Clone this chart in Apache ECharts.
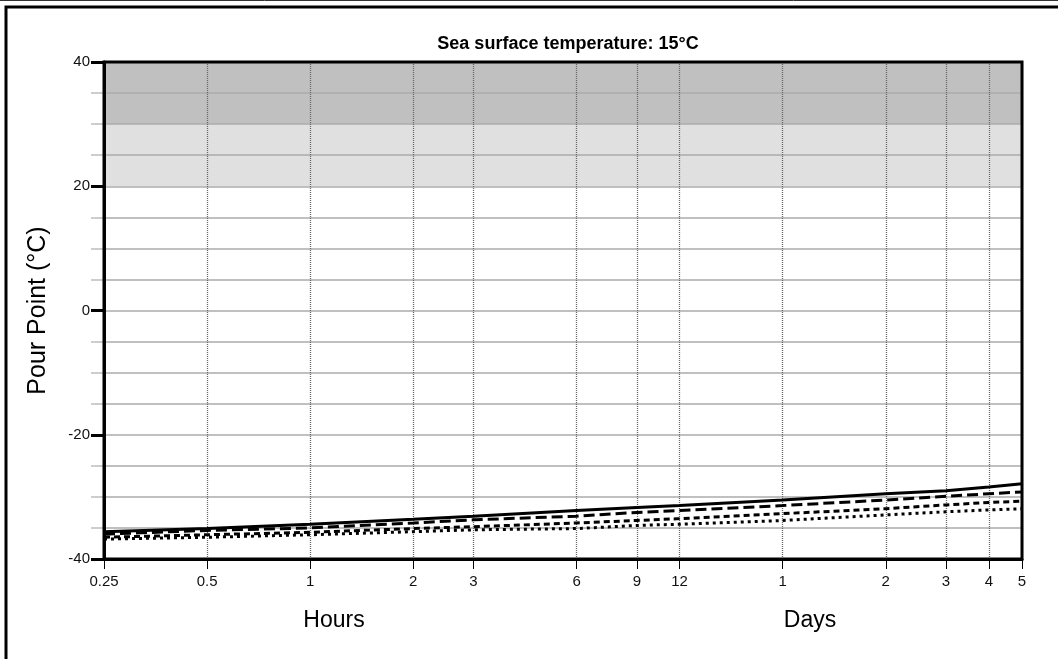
<!DOCTYPE html>
<html>
<head>
<meta charset="utf-8">
<script src="https://cdn.jsdelivr.net/npm/echarts@6/dist/echarts.min.js"></script>
<style>
html,body{margin:0;padding:0;background:#fff;}
#c{width:1058px;height:659px;}
</style>
</head>
<body>
<div id="c"></div>
<script>
// ---- data ----
var hours = [0.25, 0.5, 1, 2, 3, 6, 9, 12, 24, 48, 72, 96, 120];
var seriesSolid  = [-35.6, -35.1, -34.4, -33.6, -33.1, -32.2, -31.7, -31.4, -30.5, -29.5, -29.0, -28.4, -27.9];
var seriesLong   = [-36.0, -35.4, -35.0, -34.2, -33.7, -33.1, -32.5, -32.2, -31.4, -30.5, -29.9, -29.5, -29.2];
var seriesShort  = [-36.5, -36.1, -35.7, -35.1, -34.8, -34.2, -33.8, -33.5, -32.7, -31.9, -31.3, -30.9, -30.7];
var seriesDotted = [-36.8, -36.5, -36.1, -35.6, -35.3, -35.1, -34.6, -34.4, -33.8, -32.9, -32.4, -32.1, -31.9];
var xTickValues = [0.25, 0.5, 1, 2, 3, 6, 9, 12, 24, 48, 72, 96, 120];
var xTickLabels = ['0.25', '0.5', '1', '2', '3', '6', '9', '12', '1', '2', '3', '4', '5'];
var yMajorTicks = [-40, -20, 0, 20, 40];
var yMin = -40, yMax = 40, yStep = 5;
var bandDark = [30, 40];
var bandLight = [20, 30];
var titleText = 'Sea surface temperature: 15\u00b0C';
var yName = 'Pour Point (\u00b0C)';
var xGroupNames = ['Hours', 'Days'];

function pairs(vals) { return hours.map(function (h, i) { return [h, vals[i]]; }); }
var FONT = '"Liberation Sans", Arial, sans-serif';

var chart = echarts.init(document.getElementById('c'), null, {renderer: 'canvas'});
var lineBase = {type: 'line', showSymbol: false, symbol: 'none', z: 5, silent: true, smooth: false};

chart.setOption({
  animation: false,
  backgroundColor: '#fff',
  title: {
    text: titleText, left: 563, textAlign: 'center', top: 30,
    textStyle: {fontFamily: FONT, fontWeight: 'bold', fontSize: 18, color: '#000'}
  },
  grid: {left: 104, right: 36, top: 62, bottom: 100, show: true, borderColor: '#000', borderWidth: 3, backgroundColor: 'transparent', z: 8},
  xAxis: {
    type: 'log', logBase: 2, min: 0.25, max: 120, z: 3,
    axisLine: {show: true, onZero: false, lineStyle: {color: '#000', width: 3}},
    axisTick: {show: true, customValues: xTickValues, length: 10, lineStyle: {color: '#000', width: 1}},
    axisLabel: {
      show: true, customValues: xTickValues, margin: 15,
      fontFamily: FONT, fontSize: 15, color: '#111',
      formatter: function (v) {
        for (var i = 0; i < xTickValues.length; i++) { if (Math.abs(xTickValues[i] - v) < 1e-6) return xTickLabels[i]; }
        return '';
      }
    },
    splitLine: {show: true, lineStyle: {color: '#666', width: 1.3, type: [1, 1]}},
    minorTick: {show: false}, minorSplitLine: {show: false}
  },
  yAxis: [{
    type: 'value', min: yMin, max: yMax, interval: yStep, z: 2,
    name: yName, nameLocation: 'middle', nameGap: 53, nameRotate: 90,
    nameTextStyle: {fontFamily: FONT, fontSize: 25, color: '#000'},
    axisLine: {show: true, onZero: false, lineStyle: {color: '#000', width: 3}},
    axisTick: {show: true, length: 13, lineStyle: {color: '#bdbdbd', width: 1.5}},
    axisLabel: {show: false},
    splitLine: {show: true, lineStyle: {color: '#ababab', width: 1.5}}
  }, {
    type: 'value', min: yMin, max: yMax, position: 'left', z: 4,
    axisLine: {show: false},
    axisTick: {show: true, customValues: yMajorTicks, length: 13, lineStyle: {color: '#000', width: 3}},
    axisLabel: {show: true, customValues: yMajorTicks, margin: 14, fontFamily: FONT, fontSize: 15, color: '#111'},
    splitLine: {show: false}
  }],
  series: [
    {
      type: 'line', data: [], z: 1, silent: true, symbol: 'none',
      markArea: {
        silent: true,
        label: {show: false},
        data: [
          [{yAxis: bandDark[0], itemStyle: {color: '#c0c0c0'}}, {yAxis: bandDark[1]}],
          [{yAxis: bandLight[0], itemStyle: {color: '#e0e0e0'}}, {yAxis: bandLight[1]}]
        ]
      }
    },
    Object.assign({}, lineBase, {data: pairs(seriesSolid), lineStyle: {color: '#000', width: 3, type: 'solid'}}),
    Object.assign({}, lineBase, {data: pairs(seriesLong), lineStyle: {color: '#000', width: 3, type: [11, 5]}}),
    Object.assign({}, lineBase, {data: pairs(seriesShort), lineStyle: {color: '#000', width: 3, type: [6, 4]}}),
    Object.assign({}, lineBase, {data: pairs(seriesDotted), lineStyle: {color: '#000', width: 3, type: [3, 4]}})
  ],
  graphic: [
    {type: 'line', shape: {x1: 0, y1: 0.5, x2: 1058, y2: 0.5}, style: {stroke: '#333', lineWidth: 1}, z: 10},
    {type: 'rect', shape: {x: 6, y: 7, width: 1200, height: 800}, style: {fill: null, stroke: '#000', lineWidth: 3}, z: 10},
    {type: 'text', x: 334, y: 621, style: {text: xGroupNames[0], fontFamily: FONT, fontSize: 23, fill: '#000', align: 'center', verticalAlign: 'middle'}},
    {type: 'text', x: 810, y: 621, style: {text: xGroupNames[1], fontFamily: FONT, fontSize: 23, fill: '#000', align: 'center', verticalAlign: 'middle'}}
  ]
});
</script>
</body>
</html>
